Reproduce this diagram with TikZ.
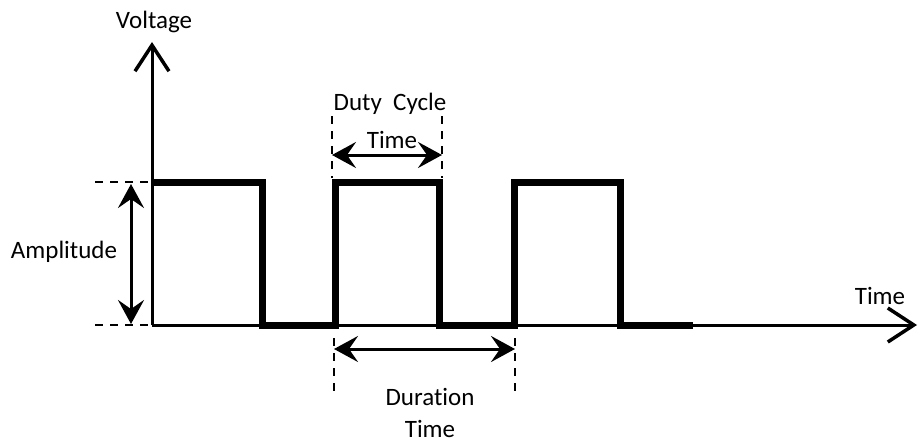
\documentclass[tikz,border=0pt]{standalone}
\usepackage{fontspec}
\setmainfont{Carlito}[Ligatures=NoCommon]
\usetikzlibrary{arrows.meta}
\begin{document}
\begin{tikzpicture}[x=1pt,y=-1pt,
  lbl/.style={font=\fontsize{25}{28}\selectfont, text=black, inner sep=0pt},
  axisline/.style={line width=3pt, -{Straight Barb[length=26pt,width=34pt,line width=3.5pt]}},
  wave/.style={line width=7pt, line join=miter, line cap=butt},
  dim/.style={line width=3pt, {Stealth[length=24pt,width=26pt,inset=9pt]}-{Stealth[length=24pt,width=26pt,inset=9pt]}},
  guide/.style={line width=2pt, dash pattern=on 8pt off 7pt}]
\path[use as bounding box] (0,0) rectangle (918,444);
% axes
\coordinate (O) at (152,325);
\coordinate (Ytop) at (152,42);
\coordinate (Xend) at (917,325);
\draw[axisline] (O) -- (Ytop);
\draw[axisline] (O) -- (Xend);
% waveform
\draw[wave] (152,182) -- (262,182) -- (262,325) -- (335,325) -- (335,182)
  -- (439,182) -- (439,325) -- (514,325) -- (514,182) -- (620,182)
  -- (620,325) -- (693,325);
% amplitude guides
\coordinate (ah1) at (95,182); \coordinate (ah2) at (148,182);
\coordinate (al1) at (95,325); \coordinate (al2) at (148,325);
\draw[guide] (ah1) -- (ah2);
\draw[guide] (al1) -- (al2);
\coordinate (at) at (131,184); \coordinate (ab) at (131,324);
\draw[dim] (at) -- (ab);
% duty cycle
\coordinate (d1t) at (332,116); \coordinate (d1b) at (332,178);
\coordinate (d2t) at (442,116); \coordinate (d2b) at (442,178);
\draw[guide] (d1t) -- (d1b);
\draw[guide] (d2t) -- (d2b);
\coordinate (dl) at (332,155); \coordinate (dr) at (442,155);
\draw[dim] (dl) -- (dr);
% duration
\coordinate (u1t) at (334,338); \coordinate (u1b) at (334,394);
\coordinate (u2t) at (515,338); \coordinate (u2b) at (515,394);
\draw[guide] (u1t) -- (u1b);
\draw[guide] (u2t) -- (u2b);
\coordinate (ul) at (334,349); \coordinate (ur) at (515,349);
\draw[dim] (ul) -- (ur);
% labels
\node[lbl] (volt) at (154,22) {Voltage};
\node[lbl] (amp) at (64,252) {Amplitude};
\node[lbl] (duty) at (390,104) {Duty\ \ Cycle};
\node[lbl] (dtime) at (392,140) {Time};
\node[lbl] (dur) at (430,397) {Duration};
\node[lbl] (durtime) at (430,429) {Time};
\node[lbl] (xtime) at (880,296) {Time};
\end{tikzpicture}
\end{document}
